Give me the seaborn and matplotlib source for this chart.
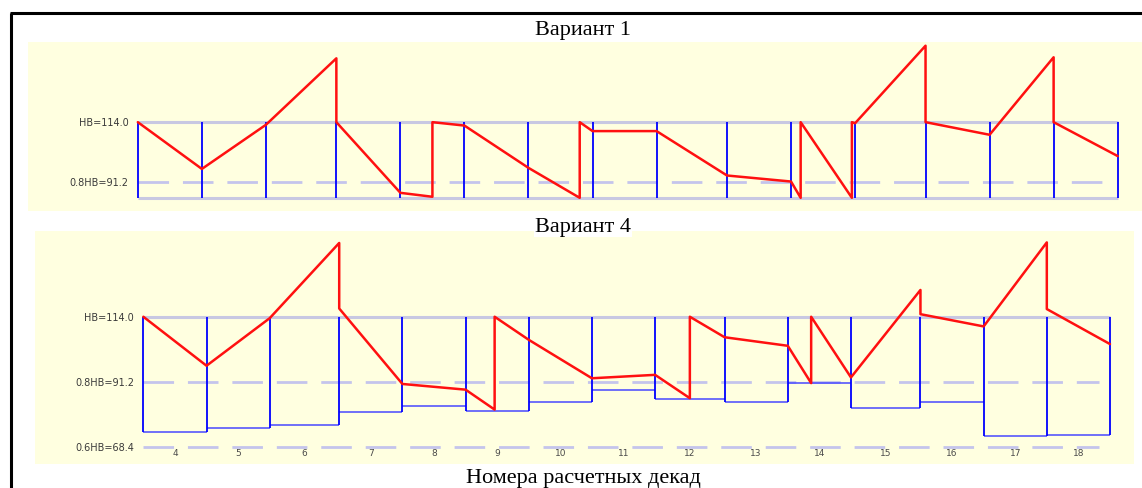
import numpy as np
import pandas as pd
import seaborn as sns
import matplotlib
matplotlib.use('Agg')
import matplotlib.pyplot as plt
from matplotlib.lines import Line2D

# decade numbers and their length in days (May..September)
decades = list(range(4, 19))
decade_days = [10, 10, 11, 10, 10, 10, 10, 10, 11, 10, 10, 11, 10, 10, 10]

HB = 114.0
HB_08 = 91.2
HB_06 = 68.4

# Variant 1: reservoir level vs day from start of decade 4
v1_day = [0, 10, 20, 31, 31, 41, 46, 46, 51, 61, 69, 69, 71, 81, 92, 102,
          103.5, 103.5, 111.5, 111.5, 112, 123, 123, 133, 143, 143, 153]
v1_level = [114.0, 96.2, 113.0, 138.3, 114.0, 87.1, 85.6, 114.0, 112.7, 96.6,
            85.2, 114.0, 110.6, 110.6, 93.7, 91.4, 85.2, 114.0, 85.2, 114.0,
            113.6, 143.1, 114.0, 109.2, 138.7, 114.0, 101.1]
v1_min = 85.2

# Variant 4
v4_day = [0, 10, 20, 31, 31, 41, 51, 55.6, 55.6, 61, 71, 81, 86.5, 86.5, 92,
          102, 105.7, 105.7, 112, 123, 123, 133, 143, 143, 153]
v4_level = [114.0, 96.8, 113.5, 139.9, 116.9, 90.4, 88.4, 81.4, 114.0, 105.9,
            92.4, 93.6, 85.4, 114.0, 106.8, 103.8, 90.7, 114.0, 92.7, 123.4,
            114.9, 110.6, 140.1, 116.7, 104.4]
v4_min = [73.5, 74.8, 76.1, 80.4, 82.6, 81.0, 84.0, 88.3, 85.1, 84.0,
          90.6, 81.9, 84.0, 72.3, 72.6]

W, H = 1142, 489
sns.set_theme(style='white')
plt.rcParams['font.family'] = ['DejaVu Sans']

bounds = np.concatenate([[0], np.cumsum(decade_days)])
mids = (bounds[:-1] + bounds[1:]) / 2

fig = plt.figure(figsize=(W / 100, H / 100), dpi=100)
fig.patch.set_facecolor('white')


def box(x0, y0, x1, y1):
    return [x0 / W, 1 - y1 / H, (x1 - x0) / W, (y1 - y0) / H]


ax1 = fig.add_axes(box(28, 43.3, 1142, 211.7))
ax2 = fig.add_axes(box(35, 232, 1134, 465))

frame_col = '#c8c8e2'
dash_col = '#c4c4ec'
blue = '#0000ff'
red = '#ff1010'
lab_col = '#3a3a3a'

for ax, ylim in [(ax1, (80.3, 144.4)), (ax2, (62.3, 144.1))]:
    ax.set_facecolor('#ffffe0')
    ax.set_xlim(-17.15, 156.8)
    ax.set_ylim(*ylim)
    ax.set_xticks([])
    ax.set_yticks([])
    for s in ax.spines.values():
        s.set_visible(False)

# --- Variant 1 ---
ax1.hlines([HB, v1_min], 0, bounds[-1], color=frame_col, lw=2.2, zorder=1)
ax1.hlines(HB_08, 0, 151.5, color=dash_col, lw=2, linestyles=(0, (11, 5)), zorder=1)
ax1.vlines(bounds, v1_min, HB, color=blue, lw=1.3, zorder=2)
sns.lineplot(x=v1_day, y=v1_level, sort=False, estimator=None, color=red,
             lw=1.8, ax=ax1, zorder=3)
ax1.text(-1.4, HB, 'НВ=114.0', ha='right', va='center', fontsize=7, color=lab_col)
ax1.text(-1.4, HB_08, '0.8НВ=91.2', ha='right', va='center', fontsize=7, color=lab_col)

# --- Variant 4 ---
ax2.hlines(HB, 0, bounds[-1], color=frame_col, lw=2.2, zorder=1)
ax2.hlines([HB_08, HB_06], 0, 151.3, color=dash_col, lw=2, linestyles=(0, (11, 5)), zorder=1)
ax2.hlines(v4_min, bounds[:-1], bounds[1:], color='#4848ff', lw=1.1, zorder=2)
edge_min = [v4_min[0]] + [min(a, b) for a, b in zip(v4_min[:-1], v4_min[1:])] + [v4_min[-1]]
ax2.vlines(bounds, edge_min, HB, color=blue, lw=1.3, zorder=2)
sns.lineplot(x=v4_day, y=v4_level, sort=False, estimator=None, color=red,
             lw=1.8, ax=ax2, zorder=3)
ax2.text(-1.5, HB, 'НВ=114.0', ha='right', va='center', fontsize=7, color=lab_col)
ax2.text(-1.5, HB_08, '0.8НВ=91.2', ha='right', va='center', fontsize=7, color=lab_col)
ax2.text(-1.5, HB_06, '0.6НВ=68.4', ha='right', va='center', fontsize=7, color=lab_col)
for m, d in zip(mids, decades):
    ax2.text(m, 66.3, str(d), ha='center', va='center', fontsize=6.5, color='#4a4a4a')

# titles
serif = ['Liberation Serif', 'DejaVu Serif']
fig.text(583 / W, 1 - 30 / H, 'Вариант 1', ha='center', va='center',
         fontsize=16, family=serif, color='black')
fig.text(583 / W, 1 - 228 / H, 'Вариант 4', ha='center', va='center',
         fontsize=16, family=serif, color='black',
         bbox=dict(facecolor='white', edgecolor='none', pad=0.5))
fig.text(583 / W, 1 - 479 / H, 'Номера расчетных декад', ha='center', va='center',
         fontsize=16, family=serif, color='black')

# outer frame of the figure box
fig.add_artist(Line2D([10.5 / W, 10.5 / W], [0, 1 - 14 / H], color='black', lw=2.2,
                      solid_capstyle='butt', transform=fig.transFigure))
fig.add_artist(Line2D([9.5 / W, 1], [1 - 14 / H, 1 - 14 / H], color='black', lw=2.2,
                      solid_capstyle='butt', transform=fig.transFigure))

fig.savefig('out.png', dpi=100)
plt.close(fig)
